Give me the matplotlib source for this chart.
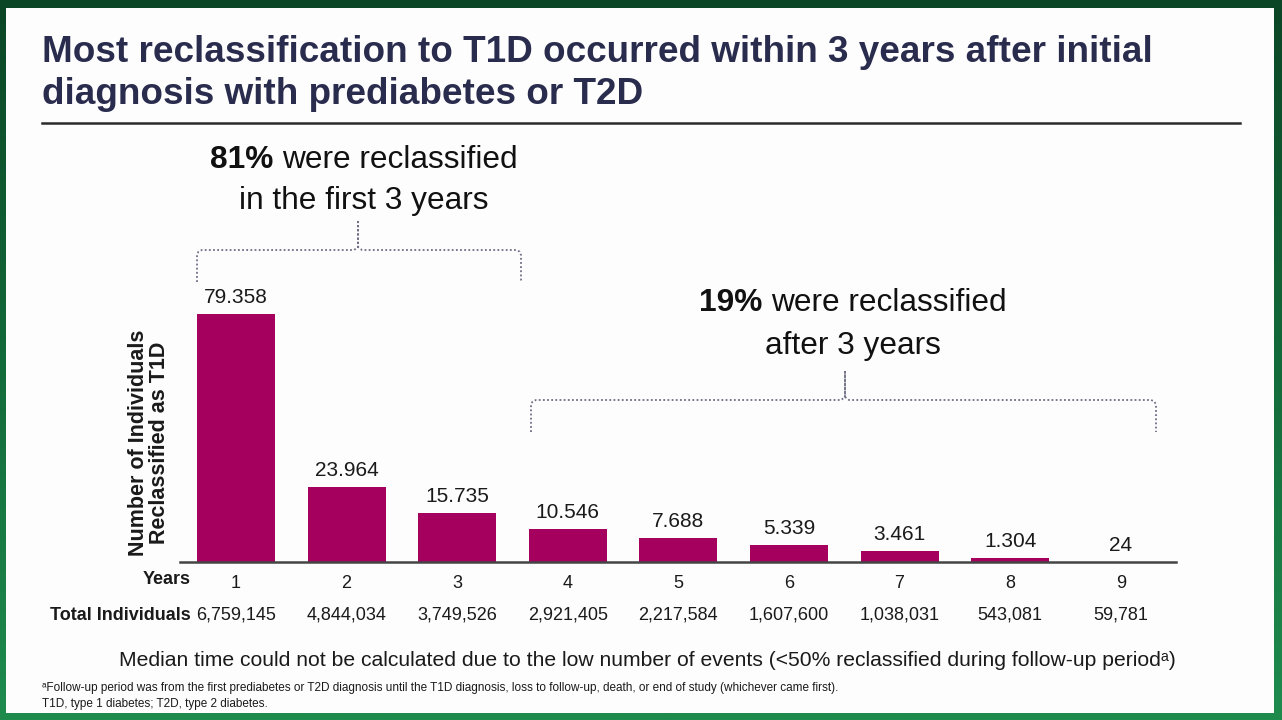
import matplotlib
matplotlib.use("Agg")
import matplotlib.pyplot as plt
import numpy as np
from matplotlib.lines import Line2D
from matplotlib.patches import Rectangle
from matplotlib.colors import LinearSegmentedColormap

plt.rcParams['font.family'] = ['Liberation Sans', 'DejaVu Sans']

years = [1, 2, 3, 4, 5, 6, 7, 8, 9]
reclassified = [79358, 23964, 15735, 10546, 7688, 5339, 3461, 1304, 24]
total_individuals = [6759145, 4844034, 3749526, 2921405, 2217584, 1607600, 1038031, 543081, 59781]

W, H = 1282, 720
fig = plt.figure(figsize=(W / 100, H / 100), dpi=100)

# green frame background
bg = fig.add_axes([0, 0, 1, 1])
bg.set_axis_off()
grad = np.linspace(0, 1, 256).reshape(-1, 1)
cm = LinearSegmentedColormap.from_list('g', ['#0b4626', '#136a3a', '#1f8c4e'])
bg.imshow(grad, aspect='auto', cmap=cm, extent=[0, 1, 0, 1], origin='upper')
bg.add_patch(Rectangle((6 / W, 1 - 713 / H), (1274 - 6) / W, (713 - 8) / H,
                       facecolor='#fdfdfd', edgecolor='none', transform=bg.transAxes))
bg.set_xlim(0, 1)
bg.set_ylim(0, 1)


def fx(px):
    return px / W


def fy(py):
    return 1 - py / H


title_color = '#2a2c4e'
fig.text(fx(42), fy(52), "Most reclassification to T1D occurred within 3 years after initial",
         fontsize=26.6, fontweight='bold', color=title_color, ha='left', va='center')
fig.text(fx(42), fy(95), "diagnosis with prediabetes or T2D",
         fontsize=26.6, fontweight='bold', color=title_color, ha='left', va='center')
fig.add_artist(Line2D([fx(42), fx(1240)], [fy(123), fy(123)], color='#2b2b2b', lw=1.8))

# bar axes
ax = fig.add_axes([fx(180), fy(562), fx(1176) - fx(180), (562 - 240) / H])
bar_color = '#a6005e'
ax.bar(years, reclassified, width=0.705, color=bar_color)
ax.set_xlim(0.494, 9.5)
ax.set_ylim(0, 79358 * 322 / 248)
for s in ['top', 'right', 'left']:
    ax.spines[s].set_visible(False)
ax.spines['bottom'].set_color('#444444')
ax.spines['bottom'].set_linewidth(1.8)
ax.set_yticks([])
ax.set_xticks(years)
ax.set_xticklabels([str(y) for y in years], fontsize=13, color='#1a1a1a')
ax.tick_params(axis='x', length=0, pad=9)
ax.patch.set_alpha(0)

for x, v in zip(years, reclassified):
    ax.annotate(f"{v:,}".replace(',', '.'), (x, v), xytext=(0, 12), textcoords='offset points',
                ha='center', va='center', fontsize=15, color='#1a1a1a')

xt = ax.get_xaxis_transform()
for x, t in zip(years, total_individuals):
    ax.text(x, -53 / 322, f"{t:,}", transform=xt, ha='center', va='center',
            fontsize=13, color='#1a1a1a')

fig.text(fx(191), fy(580), "Years", fontsize=13, fontweight='bold', ha='right', va='center', color='#1a1a1a')
fig.text(fx(191), fy(615), "Total Individuals", fontsize=13, fontweight='bold', ha='right', va='center',
         color='#1a1a1a')

fig.text(fx(149), fy(443), "Number of Individuals\nReclassified as T1D", rotation=90, fontsize=15.5,
         fontweight='bold', ha='center', va='center', color='#1a1a1a', linespacing=1.0)


def mixed(cx, cy, bold, rest, size):
    t1 = fig.text(0, 0, bold + " ", fontsize=size, fontweight='bold')
    t2 = fig.text(0, 0, rest, fontsize=size)
    r = fig.canvas.get_renderer()
    w1 = t1.get_window_extent(r).width
    w2 = t2.get_window_extent(r).width
    t1.remove(); t2.remove()
    x0 = cx - (w1 + w2) / 2
    fig.text(fx(x0), fy(cy), bold, fontsize=size, fontweight='bold', ha='left', va='center', color='#111111')
    fig.text(fx(x0 + w1), fy(cy), rest, fontsize=size, ha='left', va='center', color='#111111')


mixed(364, 160, "81%", "were reclassified", 22.8)
fig.text(fx(364), fy(201), "in the first 3 years", fontsize=22.8, ha='center', va='center', color='#111111')
mixed(853, 303, "19%", "were reclassified", 22.8)
fig.text(fx(853), fy(346), "after 3 years", fontsize=22.8, ha='center', va='center', color='#111111')


def brace(xl, xr, xc, yb, yh, yp):
    r = 5
    xs = [xl, xl, xl + r * 0.3, xl + r, xc - 4, xc, xc, xc, xc + 4, xr - r, xr - r * 0.3, xr, xr]
    ys = [yb, yh + r, yh + r * 0.3, yh, yh, yh - 3, yp, yh - 3, yh, yh, yh + r * 0.3, yh + r, yb]
    fig.add_artist(Line2D([fx(v) for v in xs], [fy(v) for v in ys], color='#6e6e84',
                          lw=1.3, linestyle=(0, (1, 1.3))))


brace(197, 521, 358, 282, 250, 222)
brace(531, 1156, 845, 432, 400, 372)

fig.text(fx(647), fy(661),
         "Median time could not be calculated due to the low number of events (<50% reclassified during follow-up period\u1d43)",
         fontsize=15.2, ha='center', va='center', color='#1a1a1a')
fig.text(fx(42), fy(688),
         "\u1d43Follow-up period was from the first prediabetes or T2D diagnosis until the T1D diagnosis, loss to follow-up, death, or end of study (whichever came first).",
         fontsize=8.5, ha='left', va='center', color='#1a1a1a')
fig.text(fx(42), fy(704), "T1D, type 1 diabetes; T2D, type 2 diabetes.",
         fontsize=8.5, ha='left', va='center', color='#1a1a1a')

fig.savefig("out.png", dpi=100)
